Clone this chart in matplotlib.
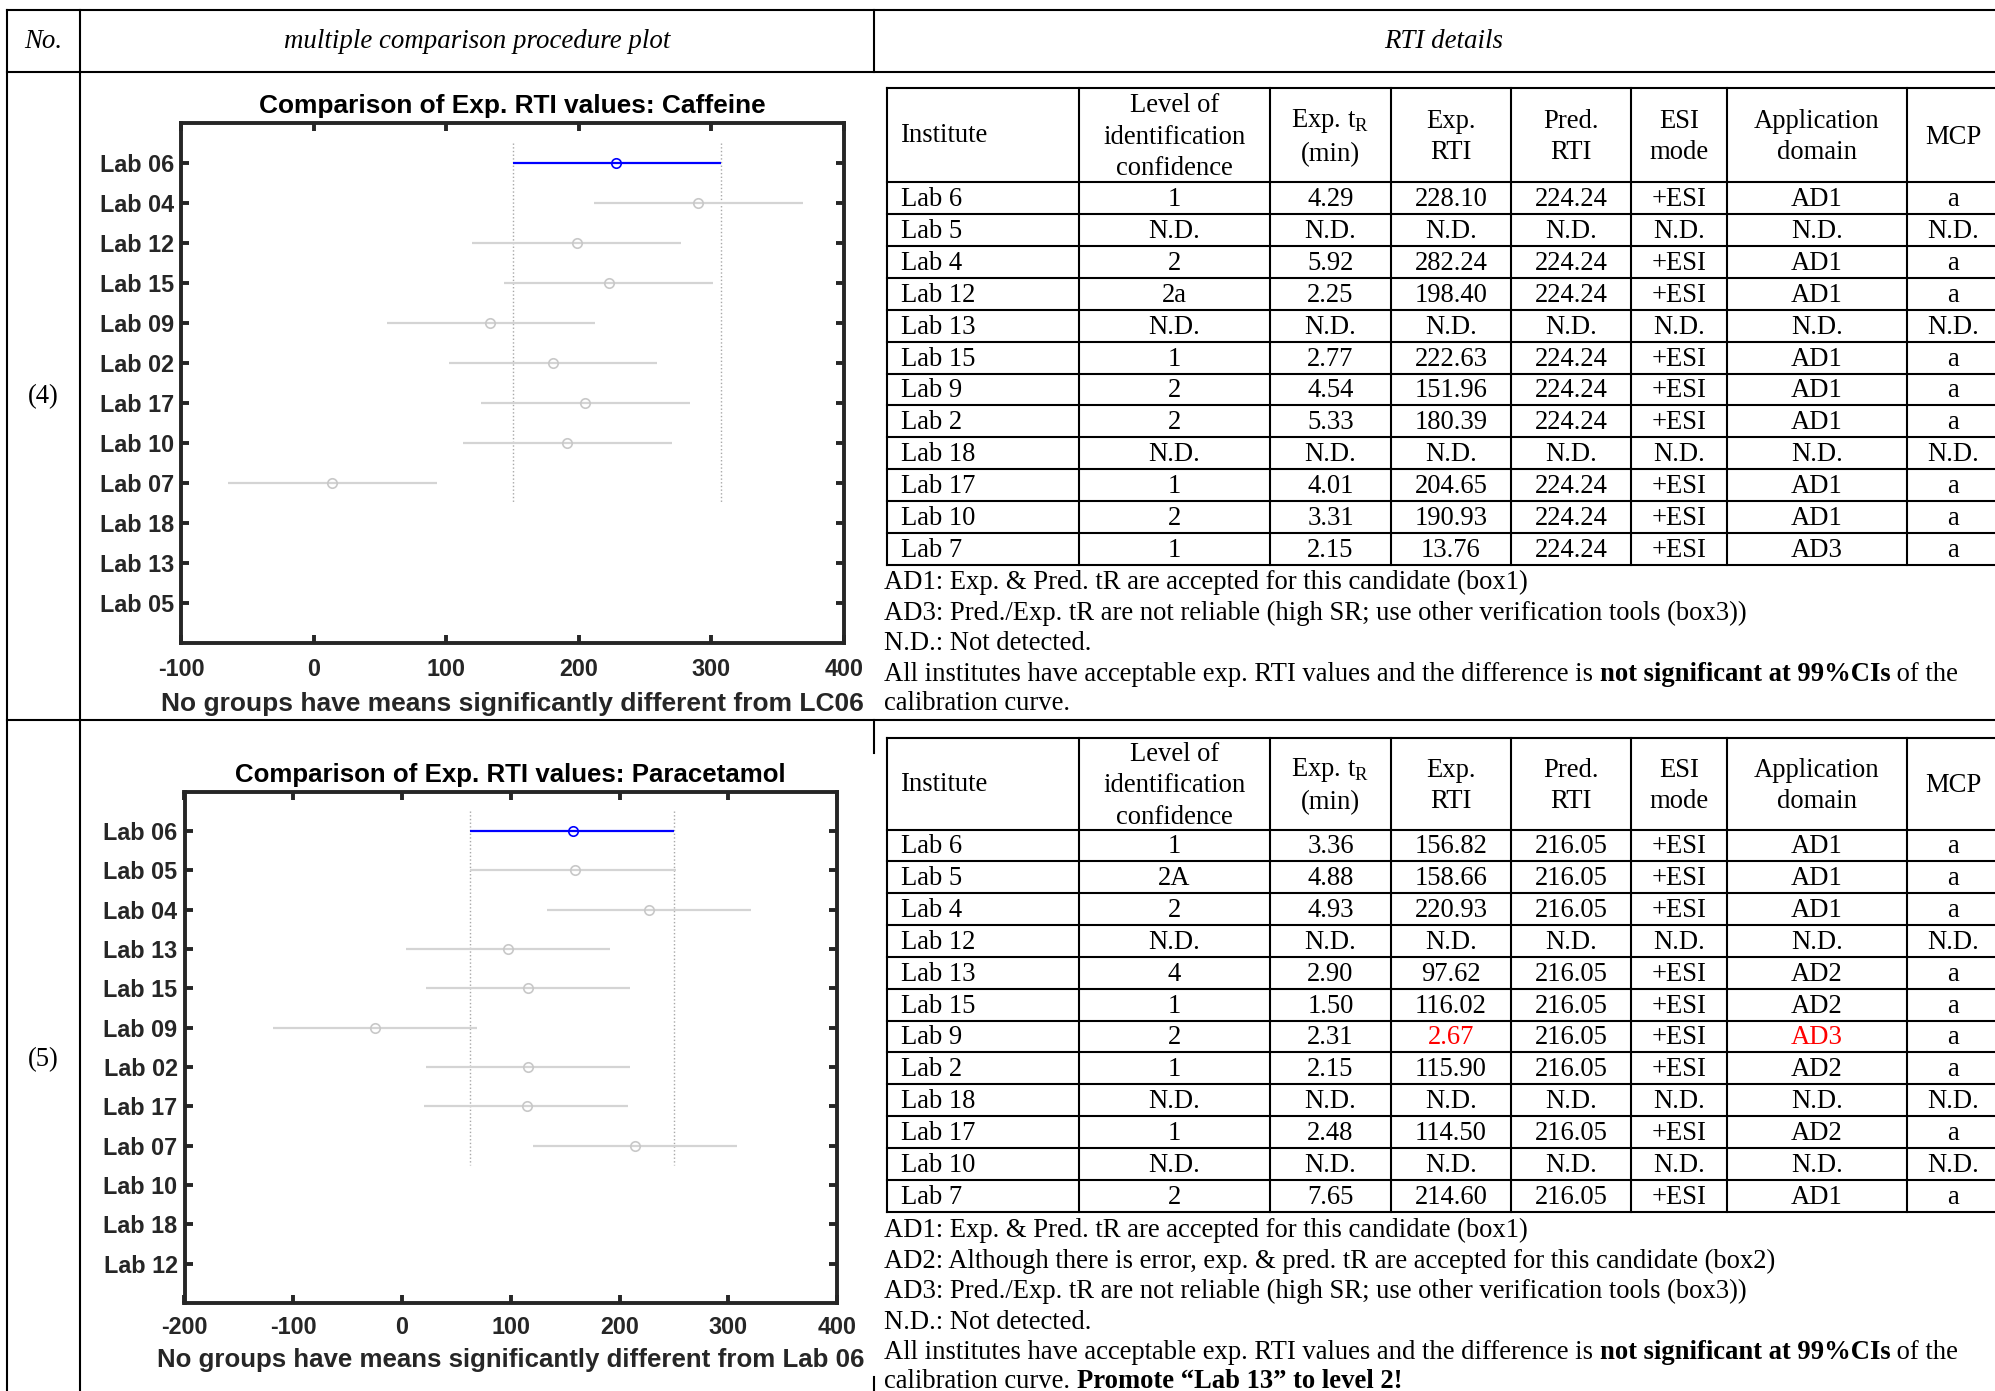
import matplotlib
matplotlib.use("Agg")
import matplotlib.pyplot as plt

plt.rcParams["axes.unicode_minus"] = False

W, H = 1995, 1391
SERIF = "Liberation Serif"
SANS = "Liberation Sans"

# ---------------- multiple comparison data ----------------
caf_groups = ["Lab 06", "Lab 04", "Lab 12", "Lab 15", "Lab 09", "Lab 02",
              "Lab 17", "Lab 10", "Lab 07", "Lab 18", "Lab 13", "Lab 05"]
caf_mean = [228.1, 290.0, 198.8, 223.0, 133.0, 180.4, 204.6, 191.0, 13.8]
caf_low = [150.0, 211.5, 119.6, 143.8, 55.0, 102.0, 126.0, 112.7, -64.6]
caf_high = [306.9, 369.0, 277.3, 301.5, 212.0, 259.0, 283.5, 270.0, 92.7]
caf_xlim = (-100, 400)
caf_xticks = [-100, 0, 100, 200, 300, 400]
caf_title = "Comparison of Exp. RTI values: Caffeine"
caf_xlabel = "No groups have means significantly different from LC06"

par_groups = ["Lab 06", "Lab 05", "Lab 04", "Lab 13", "Lab 15", "Lab 09",
              "Lab 02", "Lab 17", "Lab 07", "Lab 10", "Lab 18", "Lab 12"]
par_mean = [156.8, 158.7, 226.9, 97.6, 116.0, -25.0, 115.9, 114.5, 214.6]
par_low = [62.7, 62.7, 133.0, 3.6, 21.9, -118.8, 21.9, 20.5, 120.4]
par_high = [250.3, 252.0, 321.2, 191.7, 209.5, 69.3, 209.5, 208.1, 308.5]
par_xlim = (-200, 400)
par_xticks = [-200, -100, 0, 100, 200, 300, 400]
par_title = "Comparison of Exp. RTI values: Paracetamol"
par_xlabel = "No groups have means significantly different from Lab 06"

# ---------------- RTI detail tables ----------------
table_header = ["Institute", "Level of\nidentification\nconfidence",
                "Exp. t$_\\mathregular{R}$\n(min)", "Exp.\nRTI", "Pred.\nRTI",
                "ESI\nmode", "Application\ndomain", "MCP"]

caf_inst = ["Lab 6", "Lab 5", "Lab 4", "Lab 12", "Lab 13", "Lab 15",
            "Lab 9", "Lab 2", "Lab 18", "Lab 17", "Lab 10", "Lab 7"]
caf_level = ["1", "N.D.", "2", "2a", "N.D.", "1", "2", "2", "N.D.", "1", "2", "1"]
caf_tr = ["4.29", "N.D.", "5.92", "2.25", "N.D.", "2.77", "4.54", "5.33",
          "N.D.", "4.01", "3.31", "2.15"]
caf_exp_rti = ["228.10", "N.D.", "282.24", "198.40", "N.D.", "222.63",
               "151.96", "180.39", "N.D.", "204.65", "190.93", "13.76"]
caf_pred_rti = ["224.24", "N.D.", "224.24", "224.24", "N.D.", "224.24",
                "224.24", "224.24", "N.D.", "224.24", "224.24", "224.24"]
caf_esi = ["+ESI", "N.D.", "+ESI", "+ESI", "N.D.", "+ESI", "+ESI", "+ESI",
           "N.D.", "+ESI", "+ESI", "+ESI"]
caf_domain = ["AD1", "N.D.", "AD1", "AD1", "N.D.", "AD1", "AD1", "AD1",
              "N.D.", "AD1", "AD1", "AD3"]
caf_mcp = ["a", "N.D.", "a", "a", "N.D.", "a", "a", "a", "N.D.", "a", "a", "a"]

par_inst = ["Lab 6", "Lab 5", "Lab 4", "Lab 12", "Lab 13", "Lab 15",
            "Lab 9", "Lab 2", "Lab 18", "Lab 17", "Lab 10", "Lab 7"]
par_level = ["1", "2A", "2", "N.D.", "4", "1", "2", "1", "N.D.", "1", "N.D.", "2"]
par_tr = ["3.36", "4.88", "4.93", "N.D.", "2.90", "1.50", "2.31", "2.15",
          "N.D.", "2.48", "N.D.", "7.65"]
par_exp_rti = ["156.82", "158.66", "220.93", "N.D.", "97.62", "116.02",
               "2.67", "115.90", "N.D.", "114.50", "N.D.", "214.60"]
par_pred_rti = ["216.05", "216.05", "216.05", "N.D.", "216.05", "216.05",
                "216.05", "216.05", "N.D.", "216.05", "N.D.", "216.05"]
par_esi = ["+ESI", "+ESI", "+ESI", "N.D.", "+ESI", "+ESI", "+ESI", "+ESI",
           "N.D.", "+ESI", "N.D.", "+ESI"]
par_domain = ["AD1", "AD1", "AD1", "N.D.", "AD2", "AD2", "AD3", "AD2",
              "N.D.", "AD2", "N.D.", "AD1"]
par_mcp = ["a", "a", "a", "N.D.", "a", "a", "a", "a", "N.D.", "a", "N.D.", "a"]
# (row, column) cells flagged in red
par_flagged = [(6, 3), (6, 6)]

caf_notes = [
    [("AD1: Exp. & Pred. tR are accepted for this candidate (box1)", False)],
    [("AD3: Pred./Exp. tR are not reliable (high SR; use other verification tools (box3))", False)],
    [("N.D.: Not detected.", False)],
    [("All institutes have acceptable exp. RTI values and the difference is ", False),
     ("not significant at 99%CIs", True), (" of the", False)],
    [("calibration curve.", False)],
]
par_notes = [
    [("AD1: Exp. & Pred. tR are accepted for this candidate (box1)", False)],
    [("AD2: Although there is error, exp. & pred. tR are accepted for this candidate (box2)", False)],
    [("AD3: Pred./Exp. tR are not reliable (high SR; use other verification tools (box3))", False)],
    [("N.D.: Not detected.", False)],
    [("All institutes have acceptable exp. RTI values and the difference is ", False),
     ("not significant at 99%CIs", True), (" of the", False)],
    [("calibration curve. ", False), ("Promote \u201cLab 13\u201d to level 2!", True)],
]

# ---------------- figure ----------------
fig = plt.figure(figsize=(W / 100, H / 100), dpi=100)
ov = fig.add_axes([0, 0, 1, 1])
ov.set_xlim(0, W)
ov.set_ylim(H, 0)
ov.axis("off")

LW = 1.5
TFS = 19.2


def hline(y, x0, x1, lw=LW):
    ov.plot([x0, x1], [y, y], color="black", lw=lw, solid_capstyle="projecting",
            clip_on=False)


def vline(x, y0, y1, lw=LW):
    ov.plot([x, x], [y0, y1], color="black", lw=lw, solid_capstyle="projecting",
            clip_on=False)


# outer layout grid
for y in (10, 72, 720):
    hline(y, 7, W)
vline(7, 10, H)
vline(80, 10, H)
vline(874, 10, 72)
vline(874, 720, 753)
vline(874, 1377, H)

hdr_kw = dict(family=SERIF, style="italic", fontsize=19.4, ha="center", va="center")
ov.text(43, 42, "No.", **hdr_kw)
ov.text(477, 42, "multiple comparison procedure plot", **hdr_kw)
ov.text(1444, 42, "RTI details", **hdr_kw)
ov.text(43, 397, "(4)", family=SERIF, fontsize=TFS, ha="center", va="center")
ov.text(43, 1060, "(5)", family=SERIF, fontsize=TFS, ha="center", va="center")


# ---------------- MCP plots ----------------
def mcp_plot(px, groups, mean, low, high, xlim, xticks, title, xlabel,
             title_fs, label_fs, tick_pad, labelpad):
    left, top, right, bottom = px
    ax = fig.add_axes([left / W, 1 - bottom / H, (right - left) / W, (bottom - top) / H])
    n = len(mean)
    ypos = list(range(1, len(groups) + 1))
    ax.plot([low[0], low[0]], [0.5, n + 0.5], ls=":", color="#a8a8a8", lw=1.0)
    ax.plot([high[0], high[0]], [0.5, n + 0.5], ls=":", color="#a8a8a8", lw=1.0)
    for i in range(n):
        c = "#0000ff" if i == 0 else "#d4d4d4"
        mc = "#0000ff" if i == 0 else "#c8c8c8"
        ax.plot([low[i], high[i]], [ypos[i], ypos[i]], color=c, lw=1.6,
                solid_capstyle="butt")
        ax.plot(mean[i], ypos[i], "o", mfc="none", mec=mc, ms=6.8, mew=1.2)
    ax.set_xlim(*xlim)
    ax.set_ylim(len(groups) + 1, 0)
    ax.set_xticks(xticks)
    ax.set_yticks(ypos)
    ax.set_yticklabels(groups)
    for s in ax.spines.values():
        s.set_linewidth(2.8)
        s.set_color("#262626")
    ax.tick_params(direction="in", length=6, width=2.8, color="#262626",
                   top=True, right=True, labelsize=16.8, labelcolor="#262626")
    ax.tick_params(axis="x", pad=tick_pad)
    ax.tick_params(axis="y", pad=5)
    for lab in ax.get_xticklabels() + ax.get_yticklabels():
        lab.set_family(SANS)
        lab.set_fontweight("bold")
    ax.set_title(title, family=SANS, fontweight="bold", fontsize=title_fs,
                 color="black", pad=7)
    ax.set_xlabel(xlabel, family=SANS, fontweight="bold", fontsize=label_fs,
                  color="#262626", labelpad=labelpad)
    return ax


mcp_plot((181, 123, 844, 643), caf_groups, caf_mean, caf_low, caf_high,
         caf_xlim, caf_xticks, caf_title, caf_xlabel, 18.9, 19.0, 10.5, 8)
mcp_plot((184.5, 791.5, 837, 1303), par_groups, par_mean, par_low, par_high,
         par_xlim, par_xticks, par_title, par_xlabel, 18.6, 18.65, 9.5, 6)

# ---------------- tables ----------------
col_edges = [887, 1079, 1270, 1391, 1511, 1631, 1727, 1907, 2000]


def draw_table(top, head_bottom, bottom, columns, flagged=()):
    nrows = len(columns[0])
    rh = (bottom - head_bottom) / nrows
    hline(top, col_edges[0], W)
    hline(head_bottom, col_edges[0], W)
    for r in range(1, nrows + 1):
        hline(head_bottom + r * rh, col_edges[0], W)
    for x in col_edges[:-1]:
        vline(x, top, bottom)
    for j, h in enumerate(table_header):
        xc = (col_edges[j] + col_edges[j + 1]) / 2
        if j == 0:
            ov.text(col_edges[0] + 14, (top + head_bottom) / 2 + 1, h, family=SERIF,
                    fontsize=TFS, ha="left", va="center")
        else:
            ov.text(xc, (top + head_bottom) / 2 + 2, h, family=SERIF, fontsize=TFS,
                    ha="center", va="center", linespacing=1.34)
    for j, col in enumerate(columns):
        xc = (col_edges[j] + col_edges[j + 1]) / 2
        for r, val in enumerate(col):
            yb = head_bottom + (r + 0.5) * rh + 8
            color = "#ff0000" if (r, j) in flagged else "black"
            if j == 0:
                ov.text(col_edges[0] + 14, yb, val, family=SERIF, fontsize=TFS,
                        ha="left", va="baseline", color=color)
            else:
                ov.text(xc, yb, val, family=SERIF, fontsize=TFS, ha="center",
                        va="baseline", color=color)


draw_table(88, 182, 565,
           [caf_inst, caf_level, caf_tr, caf_exp_rti, caf_pred_rti, caf_esi,
            caf_domain, caf_mcp])
draw_table(738, 829.5, 1211.5,
           [par_inst, par_level, par_tr, par_exp_rti, par_pred_rti, par_esi,
            par_domain, par_mcp], flagged=par_flagged)

renderer = fig.canvas.get_renderer()


def text_width(s, bold):
    kw = dict(family=SERIF, fontsize=TFS, fontweight="bold" if bold else "normal")
    a = ov.text(0, 0, s + "|", **kw)
    b = ov.text(0, 0, "|", **kw)
    w = a.get_window_extent(renderer).width - b.get_window_extent(renderer).width
    a.remove()
    b.remove()
    return w


def notes(x0, y_centers, lines):
    for yc, parts in zip(y_centers, lines):
        x = x0
        for s, bold in parts:
            ov.text(x, yc + 8, s, family=SERIF, fontsize=TFS,
                    fontweight="bold" if bold else "normal", ha="left", va="baseline")
            x += text_width(s, bold)


notes(884, [581, 612, 642, 673, 702], caf_notes)
notes(884, [1229, 1260, 1290, 1321, 1351, 1380], par_notes)

fig.savefig("out.png", dpi=100)
